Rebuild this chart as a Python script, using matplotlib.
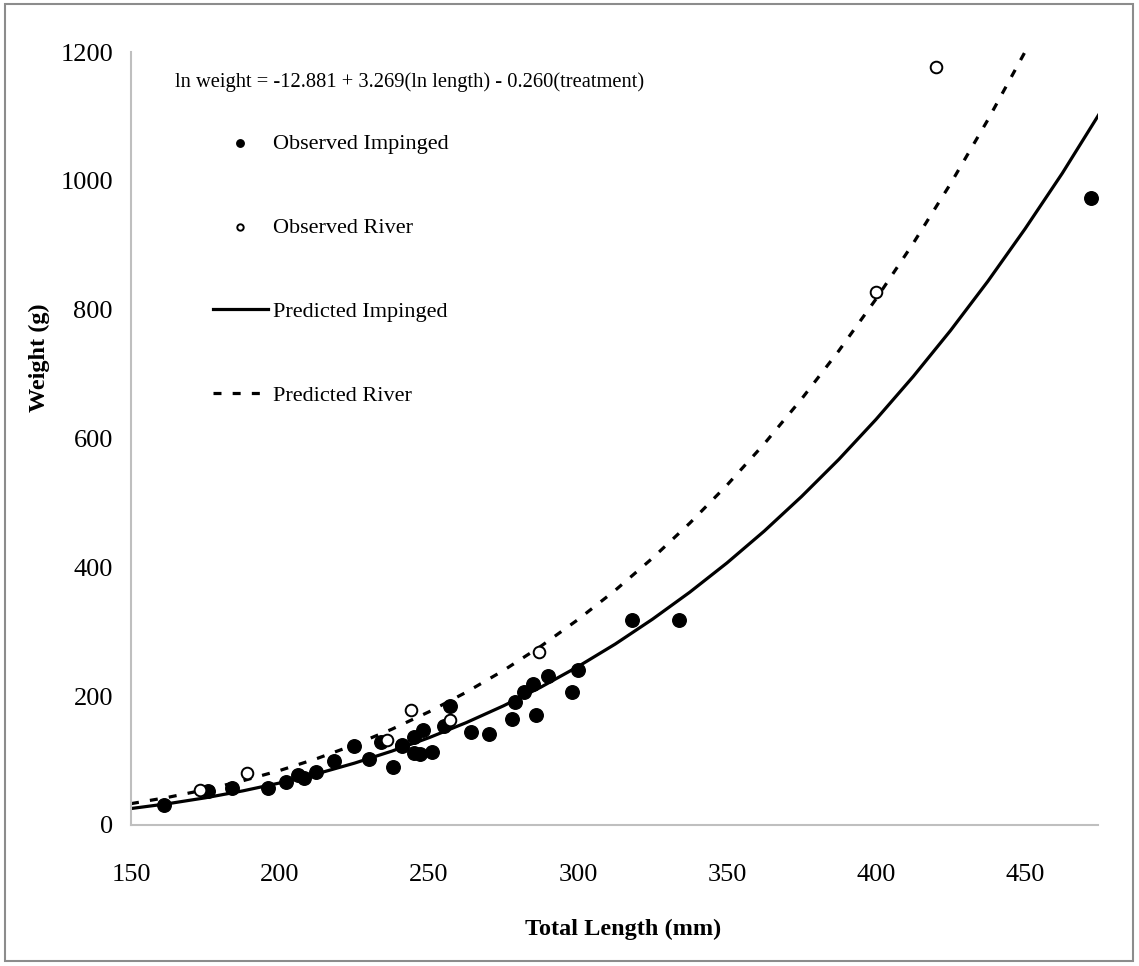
import matplotlib
matplotlib.use("Agg")
import matplotlib.pyplot as plt
from matplotlib.patches import Rectangle

plt.rcParams['font.family'] = ['Liberation Serif', 'DejaVu Serif']

# observed fish, impinged (filled) and river (open)
imp_len = [161, 176, 184, 196, 202, 206, 208, 212, 218, 225, 230, 234, 238, 241,
           241, 245, 245, 247, 248, 251, 255, 257, 264, 270, 278, 279, 282, 285,
           286, 290, 298, 300, 318, 334, 472]
imp_wt = [31, 52, 57, 58, 67, 78, 73, 83, 100, 122, 102, 129, 90, 123,
          124, 137, 112, 110, 148, 114, 154, 185, 145, 142, 164, 191, 207, 219,
          171, 231, 207, 241, 318, 318, 973]
riv_len = [173, 189, 236, 244, 257, 287, 400, 420]
riv_wt = [54, 80, 132, 178, 163, 268, 828, 1177]

# predicted curves
pred_len = [150, 162.5, 175, 187.5, 200, 212.5, 225, 237.5, 250, 262.5, 275, 287.5,
            300, 312.5, 325, 337.5, 350, 362.5, 375, 387.5, 400, 412.5, 425, 437.5,
            450, 462.5, 475]
pred_imp = [25.5, 33.1, 42.2, 52.9, 65.3, 79.6, 96.0, 114.6, 135.5, 158.9, 185.0,
            213.9, 245.9, 280.9, 319.5, 361.4, 406.9, 456.3, 509.9, 567.5, 629.7,
            696.4, 767.7, 844.0, 925.5, 1011.8, 1104.7]
pred_riv = [33.1, 43.0, 54.8, 68.6, 84.7, 103.3, 124.5, 148.6, 175.7, 206.1, 239.9,
            277.4, 318.9, 364.4, 414.3, 468.6, 527.7, 591.8, 661.3, 736.1, 816.6,
            903.2, 995.6, 1094.6, 1200.3]

equation = "ln weight = -12.881 + 3.269(ln length) - 0.260(treatment)"

fig = plt.figure(figsize=(11.39, 9.66), dpi=100)
fig.patches.append(Rectangle((0.004, 0.005), 0.991, 0.991, transform=fig.transFigure,
                             fill=False, edgecolor='#8c8c8c', linewidth=1.5))
ax = fig.add_axes([0.115, 0.146, 0.849, 0.80])

h_oi = ax.scatter(imp_len, imp_wt, s=95, color='black', zorder=3, label='Observed Impinged')
h_or = ax.scatter(riv_len, riv_wt, s=70, facecolor='white', edgecolor='black',
                  linewidth=1.4, zorder=3, label='Observed River')
h_pi, = ax.plot(pred_len, pred_imp, color='black', lw=2.3, label='Predicted Impinged')
h_pr, = ax.plot(pred_len[:len(pred_riv)], pred_riv, color='black', lw=2.3,
                dashes=(2.5, 3.5), label='Predicted River')

ax.set_xlim(150, 474.5)
ax.set_ylim(0, 1200)
ax.set_xticks([150, 200, 250, 300, 350, 400, 450])
ax.set_yticks([0, 200, 400, 600, 800, 1000, 1200])
ax.tick_params(length=0, labelsize=19)
ax.tick_params(axis='x', pad=28)
ax.tick_params(axis='y', pad=13)
for side in ['top', 'right']:
    ax.spines[side].set_visible(False)
for side in ['left', 'bottom']:
    ax.spines[side].set_color('#bfbfbf')
    ax.spines[side].set_linewidth(1.5)

ax.set_xlabel("Total Length (mm)", fontsize=17.5, fontweight='bold')
ax.set_ylabel("Weight (g)", fontsize=17.5, fontweight='bold')
ax.xaxis.set_label_coords(0.509, -0.121)
ax.yaxis.set_label_coords(-0.084, 0.605)

ax.text(0.0455, 0.961, equation, transform=ax.transAxes, fontsize=14.8, va='center')

leg = ax.legend(handles=[h_oi, h_or, h_pi, h_pr], loc='upper left',
                bbox_to_anchor=(0.085, 0.895), frameon=False, fontsize=16,
                markerscale=0.55, labelspacing=2.85, handlelength=2.45,
                handletextpad=0.22, borderpad=0, borderaxespad=0)

fig.savefig("out.png", dpi=100)
